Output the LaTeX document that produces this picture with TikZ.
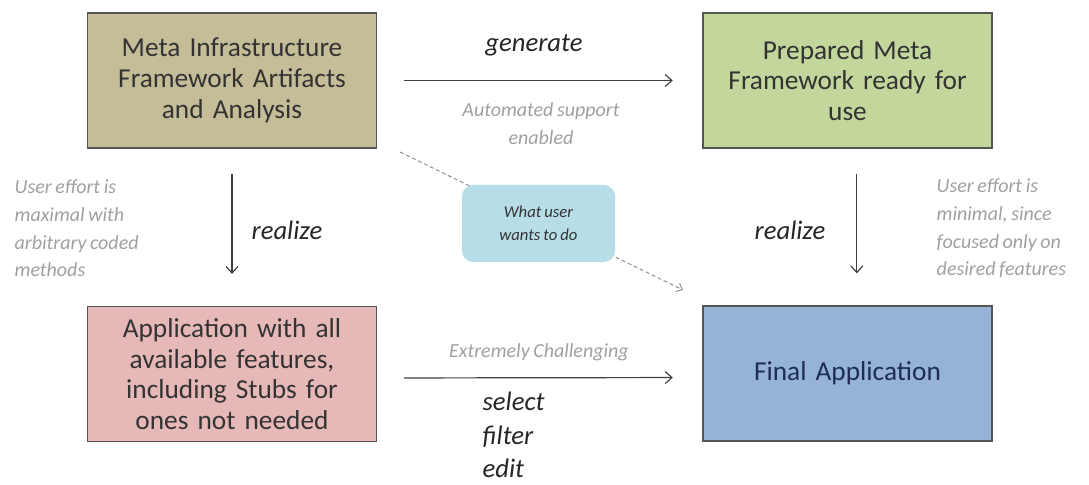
\documentclass[tikz,border=0pt]{standalone}
\usepackage{fontspec}
\setmainfont{Carlito}[WordSpace=0.8]
\usetikzlibrary{arrows.meta}

\definecolor{tanbox}{RGB}{196,189,151}
\definecolor{greenbox}{RGB}{195,214,155}
\definecolor{pinkbox}{RGB}{230,185,184}
\definecolor{bluebox}{RGB}{149,179,215}
\definecolor{wishbox}{RGB}{183,221,232}
\definecolor{notegray}{RGB}{160,160,160}
\definecolor{boxedge}{RGB}{85,85,85}

\begin{document}
\begin{tikzpicture}[x=0.75pt, y=-0.75pt,
    stage/.style={draw=boxedge, line width=1.1pt, minimum width=217pt, minimum height=101pt,
        align=center, text width=205pt, font=\fontsize{20.5}{23}\selectfont, text=black!80},
    flow/.style={-{Straight Barb[length=5pt, width=9pt]}, line width=0.9pt, black!75},
    note/.style={text=notegray, font=\itshape\fontsize{15}{20.8}\selectfont, align=left},
    verb/.style={font=\itshape\fontsize{20}{24}\selectfont, text=black!85}]
    \useasboundingbox (0,0) rectangle (1089,485);

    % The four stages
    \node[stage, fill=tanbox] (meta) at (232, 80.5) {Meta Infrastructure\\ Framework Artifacts\\ and Analysis};
    \node[stage, fill=greenbox] (prepared) at (847.5, 80.5) {Prepared Meta\\ Framework ready for\\ use};
    \node[stage, fill=pinkbox] (fullapp) at (232, 374) {Application with all\\ available features,\\ including Stubs for\\ ones not needed};
    \node[stage, fill=bluebox, text={rgb,255:red,30;green,45;blue,80}] (final) at (847.5, 373.5) {Final Application};

    % Arrows between the stages
    \draw[flow, shorten <=20pt, shorten >=22pt] (meta.east) -- (prepared.west);
    \draw[flow, shorten <=19pt, shorten >=24pt] (meta.south) -- (fullapp.north);
    \draw[flow, shorten <=19pt, shorten >=24pt] ([xshift=7pt]prepared.south) -- ([xshift=7pt]final.north);
    \draw[flow, shorten <=20pt, shorten >=22pt] ([yshift=-3pt]fullapp.east) -- ([yshift=-3pt]final.west);

    % What the user wants
    \coordinate (wishFrom) at (400, 152);
    \coordinate (wishTo) at (683, 290);
    \draw[-{Straight Barb[length=4pt, width=7pt]}, dash pattern=on 3pt off 2pt, line width=0.7pt,
        color={rgb,255:red,125;green,140;blue,155}] (wishFrom) -- (wishTo);
    \node[fill=wishbox, rounded corners=9pt, minimum width=115pt, minimum height=58pt, align=center,
        font=\itshape\fontsize{12.5}{17}\selectfont, text=black!80] (wish) at (538.5, 223.5) {What user\\ wants to do};

    % Verbs on the arrows
    \node[verb] (generate) at (534, 45) {generate};
    \node[verb] (realizeL) at (287, 230) {realize};
    \node[verb] (realizeR) at (790, 230) {realize};
    \node[verb, anchor=west, align=left, font=\itshape\fontsize{20}{25}\selectfont, inner sep=1pt] (pick) at (481, 435) {select\\ filter\\ edit};

    % Grey remarks
    \node[note, align=center] (automated) at (541, 123.5) {Automated support\\ enabled};
    \node[note] (challenge) at (539, 352) {Extremely Challenging};
    \node[note, anchor=west] (effortMax) at (10, 228.5) {User effort is\\ maximal with\\ arbitrary coded\\ methods};
    \node[note, anchor=west] (effortMin) at (932, 228.5) {User effort is\\ minimal, since\\ focused only on\\ desired features};
\end{tikzpicture}
\end{document}
